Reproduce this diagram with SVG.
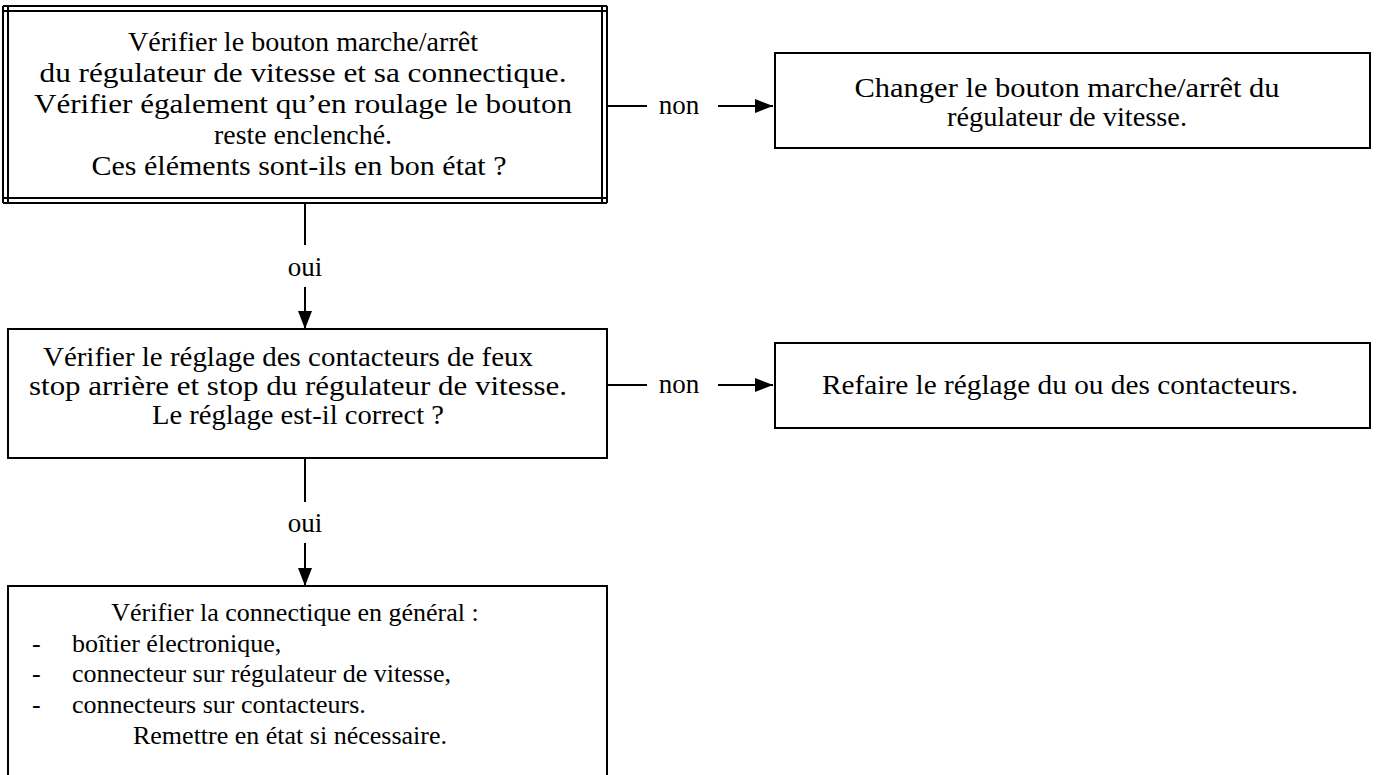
<svg xmlns="http://www.w3.org/2000/svg" width="1380" height="775" viewBox="0 0 1380 775">
  <style>
    .box { fill: #ffffff; stroke: #000000; stroke-width: 2; }
    .dbl { stroke: #000000; stroke-width: 2; fill: none; }
    .t { font-family: "Liberation Serif", "Times New Roman", serif; font-size: 27px; fill: #000000; }
    .s { font-size: 26px; }
    .c { text-anchor: middle; }
    .wire { stroke: #000000; stroke-width: 2; fill: none; }
  </style>
  <defs>
    <marker id="arrow" viewBox="0 0 18 14" refX="18" refY="7" markerWidth="18" markerHeight="14" markerUnits="userSpaceOnUse" orient="auto">
      <path d="M0,0 L18,7 L0,14 Z" fill="#000000"/>
    </marker>
  </defs>
  <rect width="1380" height="775" fill="#ffffff"/>

  <!-- decision: on/off switch check (double frame) -->
  <g id="check-switch">
    <rect x="3" y="6" width="604" height="197" fill="#ffffff"/>
    <path class="dbl" d="M3,6 H607 M3,11 H607 M3,198 H607 M3,203 H607 M3,6 V203 M8,6 V203 M602,6 V203 M607,6 V203"/>
    <text class="t c" x="303" y="51" textLength="350" lengthAdjust="spacingAndGlyphs">Vérifier le bouton marche/arrêt</text>
    <text class="t c" x="303" y="82" textLength="527" lengthAdjust="spacingAndGlyphs">du régulateur de vitesse et sa connectique.</text>
    <text class="t c" x="303" y="113" textLength="538" lengthAdjust="spacingAndGlyphs">Vérifier également qu’en roulage le bouton</text>
    <text class="t c" x="303" y="144" textLength="178" lengthAdjust="spacingAndGlyphs">reste enclenché.</text>
    <text class="t c" x="299" y="175" textLength="415" lengthAdjust="spacingAndGlyphs">Ces éléments sont-ils en bon état ?</text>
  </g>

  <!-- action: replace switch -->
  <g id="replace-switch">
    <rect class="box" x="775" y="53" width="595" height="95"/>
    <text class="t c" x="1067" y="97" textLength="425" lengthAdjust="spacingAndGlyphs">Changer le bouton marche/arrêt du</text>
    <text class="t c" x="1067" y="126" textLength="240" lengthAdjust="spacingAndGlyphs">régulateur de vitesse.</text>
  </g>

  <!-- decision: brake switch adjustment -->
  <g id="check-contacts">
    <rect class="box" x="8" y="329" width="599" height="129"/>
    <text class="t c" x="288" y="366" textLength="490" lengthAdjust="spacingAndGlyphs">Vérifier le réglage des contacteurs de feux</text>
    <text class="t c" x="298" y="395" textLength="538" lengthAdjust="spacingAndGlyphs">stop arrière et stop du régulateur de vitesse.</text>
    <text class="t c" x="298" y="424" textLength="292" lengthAdjust="spacingAndGlyphs">Le réglage est-il correct ?</text>
  </g>

  <!-- action: readjust contacts -->
  <g id="readjust-contacts">
    <rect class="box" x="775" y="343" width="595" height="85"/>
    <text class="t c" x="1060" y="394" textLength="476" lengthAdjust="spacingAndGlyphs">Refaire le réglage du ou des contacteurs.</text>
  </g>

  <!-- action: general wiring check -->
  <g id="check-wiring">
    <rect class="box" x="8" y="586" width="599" height="200"/>
    <text class="t s c" x="295" y="621">Vérifier la connectique en général :</text>
    <text class="t s" x="32" y="652">-</text>
    <text class="t s" x="72" y="652">boîtier électronique,</text>
    <text class="t s" x="32" y="682">-</text>
    <text class="t s" x="72" y="682">connecteur sur régulateur de vitesse,</text>
    <text class="t s" x="32" y="713">-</text>
    <text class="t s" x="72" y="713">connecteurs sur contacteurs.</text>
    <text class="t s c" x="290" y="744">Remettre en état si nécessaire.</text>
  </g>

  <!-- connectors -->
  <g id="connectors">
    <line class="wire" x1="607" y1="106" x2="647" y2="106"/>
    <line class="wire" x1="718" y1="106" x2="773" y2="106" marker-end="url(#arrow)"/>
    <text class="t c" x="679" y="114">non</text>

    <line class="wire" x1="305" y1="203" x2="305" y2="245"/>
    <line class="wire" x1="305" y1="287" x2="305" y2="329" marker-end="url(#arrow)"/>
    <text class="t c" x="305" y="276">oui</text>

    <line class="wire" x1="607" y1="385" x2="647" y2="385"/>
    <line class="wire" x1="718" y1="385" x2="773" y2="385" marker-end="url(#arrow)"/>
    <text class="t c" x="679" y="393">non</text>

    <line class="wire" x1="305" y1="458" x2="305" y2="502"/>
    <line class="wire" x1="305" y1="543" x2="305" y2="586" marker-end="url(#arrow)"/>
    <text class="t c" x="305" y="532">oui</text>
  </g>
</svg>
